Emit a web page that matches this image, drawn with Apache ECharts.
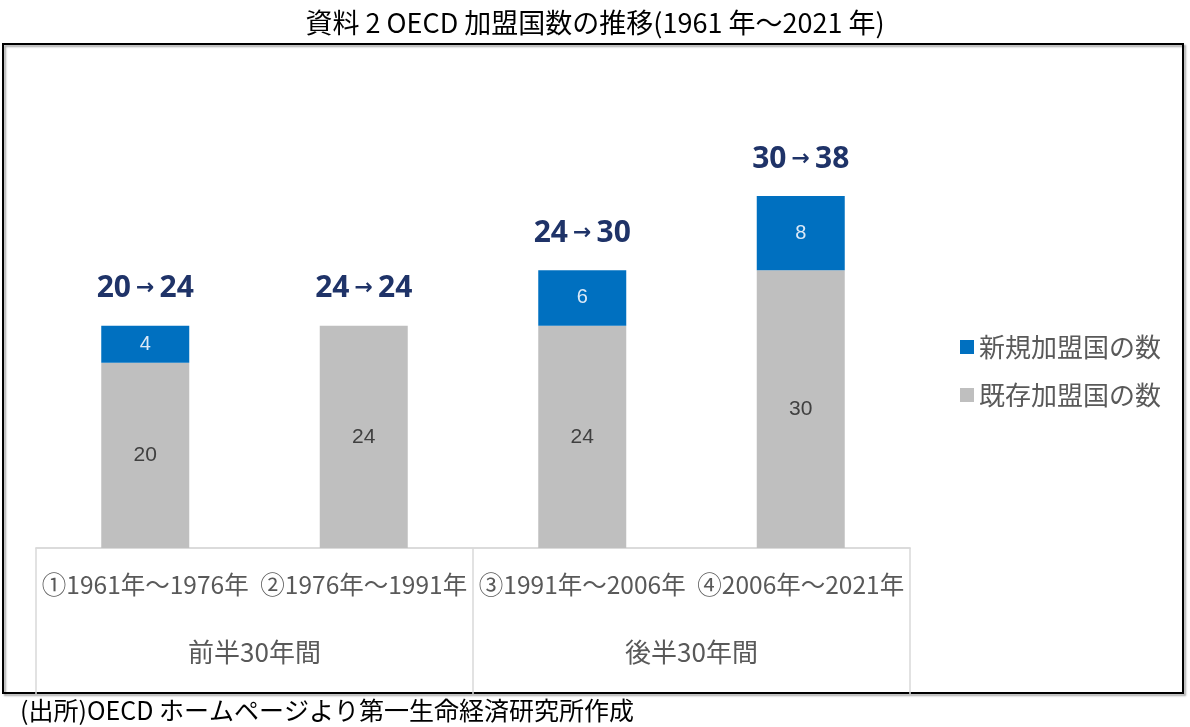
<!DOCTYPE html>
<html>
<head>
<meta charset="utf-8">
<script src="https://cdn.jsdelivr.net/npm/echarts@6/dist/echarts.min.js"></script>
<style>
  html, body { margin: 0; padding: 0; background: #fff; }
  #chart { width: 1190px; height: 727px; }
</style>
</head>
<body>
<div id="chart"></div>
<script>
// data
const periods = ['①1961年～1976年', '②1976年～1991年', '③1991年～2006年', '④2006年～2021年'];
const halves = ['前半30年間', '後半30年間'];
const existing = [20, 24, 24, 30];
const added = [4, 0, 6, 8];

const jp = '"Noto Sans CJK JP", "Noto Sans", sans-serif';

const myChart = echarts.init(document.getElementById('chart'));
const option = {
  backgroundColor: '#fff',
  animation: false,
  title: {
    text: '資料 2 OECD 加盟国数の推移(1961 年～2021 年)',
    left: 'center',
    top: 4,
    textStyle: { fontFamily: jp, fontSize: 27, fontWeight: 'normal', color: '#000' }
  },
  legend: {
    data: ['新規加盟国の数', '既存加盟国の数'],
    orient: 'vertical',
    left: 955,
    top: 329,
    itemWidth: 14,
    itemHeight: 14,
    itemGap: 22,
    icon: 'rect',
    textStyle: { fontFamily: jp, fontSize: 26, color: '#595959' }
  },
  grid: { left: 36, right: 280, top: 85, bottom: 179 },
  xAxis: [
    {
      type: 'category',
      data: periods,
      axisLine: { lineStyle: { color: '#d9d9d9', width: 1.5 } },
      axisTick: { show: false },
      axisLabel: { margin: 24, fontFamily: jp, fontSize: 24.5, color: '#595959', interval: 0 }
    },
    {
      type: 'category',
      position: 'bottom',
      data: halves,
      axisLine: { lineStyle: { color: '#d9d9d9', width: 1.5 } },
      axisTick: { show: true, length: 146, lineStyle: { color: '#d9d9d9', width: 1.5 } },
      axisLabel: { margin: 91, fontFamily: jp, fontSize: 26, color: '#595959' }
    }
  ],
  yAxis: { type: 'value', min: 0, max: 50, show: false },
  series: [
    {
      name: '既存加盟国の数',
      type: 'bar',
      stack: 'total',
      barWidth: 88,
      itemStyle: { color: '#bfbfbf' },
      label: {
        show: true,
        position: 'inside',
        fontFamily: '"Liberation Sans", Arial, sans-serif',
        fontSize: 21,
        color: '#404040'
      },
      data: existing
    },
    {
      name: '新規加盟国の数',
      type: 'bar',
      stack: 'total',
      itemStyle: { color: '#0070c0' },
      label: {
        show: true,
        position: 'inside',
        fontFamily: '"Liberation Sans", Arial, sans-serif',
        fontSize: 20,
        color: '#dce9f7',
        formatter: p => (p.value ? p.value : '')
      },
      data: added
    },
    {
      name: 'total',
      type: 'bar',
      stack: 'total',
      itemStyle: { color: 'transparent' },
      label: {
        show: true,
        position: 'top',
        distance: 22,
        formatter: p => {
          const i = p.dataIndex;
          return '{n|' + existing[i] + '}{a|→}{n|' + (existing[i] + added[i]) + '}';
        },
        rich: {
          n: { fontFamily: '"Noto Sans", "Liberation Sans", sans-serif', fontSize: 30, fontWeight: 'bold', color: '#1f3368' },
          a: { fontFamily: '"DejaVu Sans", sans-serif', fontSize: 22, fontWeight: 'bold', color: '#1f3368', padding: [0, 5, 0, 5] }
        }
      },
      data: existing.map(() => 0)
    }
  ],
  graphic: [
    {
      type: 'rect',
      z: -10,
      shape: { x: 3, y: 44, width: 1180, height: 649 },
      style: { fill: 'none', stroke: '#000', lineWidth: 2, shadowColor: 'rgba(0,0,0,0.35)', shadowOffsetX: 2, shadowOffsetY: 2, shadowBlur: 2 }
    },
    {
      type: 'text',
      left: 20,
      top: 698,
      style: { text: '(出所)OECD ホームページより第一生命経済研究所作成', fontFamily: jp, fontSize: 25, fill: '#000' }
    }
  ]
};
option && myChart.setOption(option);
</script>
</body>
</html>
